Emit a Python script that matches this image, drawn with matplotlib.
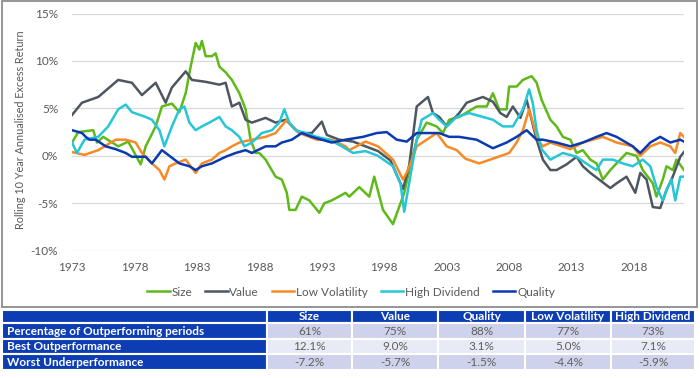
import numpy as np
import matplotlib.pyplot as plt
from matplotlib.patches import Rectangle

plt.rcParams['font.family'] = ['Lato', 'DejaVu Sans']

# ---- chart data (rolling 10y annualised excess return, %) ----
size_years = [1973.0, 1973.5, 1974.7, 1975.0, 1975.5, 1976.7, 1977.5, 1978.0, 1978.5, 1978.9,
              1979.7, 1980.2, 1981.0, 1981.6, 1982.1, 1982.5, 1982.9, 1983.2, 1983.4, 1983.7,
              1984.2, 1984.5, 1984.8, 1985.3, 1985.8, 1986.4, 1986.9, 1987.3, 1987.7, 1988.0,
              1988.5, 1989.3, 1989.8, 1990.2, 1990.4, 1990.9, 1991.4, 1992.0, 1992.8, 1993.2,
              1993.8, 1994.9, 1995.2, 1996.0, 1996.8, 1997.2, 1997.9, 1998.7, 1999.3, 1999.6,
              2000.1, 2000.6, 2001.4, 2002.2, 2002.7, 2003.2, 2004.0, 2005.4, 2006.2, 2006.7,
              2007.2, 2007.8, 2008.0, 2008.6, 2009.1, 2009.8, 2010.2, 2010.6, 2011.3, 2011.8,
              2012.3, 2012.9, 2013.4, 2013.9, 2014.5, 2015.0, 2015.5, 2016.1, 2016.6, 2017.4,
              2018.2, 2018.7, 2019.5, 2019.8, 2020.3, 2020.6, 2021.1, 2021.4, 2022.0]
size_vals = [1.4, 2.5, 2.7, 1.4, 2.0, 1.0, 1.5, 0.3, -0.9, 1.0,
             3.1, 5.2, 5.5, 4.6, 6.6, 9.4, 11.9, 11.2, 12.1, 10.5,
             10.5, 10.8, 9.4, 8.8, 8.0, 6.6, 4.9, 1.7, 0.3, 0.3,
             -0.4, -2.2, -2.5, -3.9, -5.7, -5.7, -4.3, -4.7, -6.0, -5.0,
             -4.7, -3.9, -4.3, -3.3, -4.3, -2.2, -5.7, -7.2, -5.0, -3.9,
             -1.0, 1.7, 3.5, 3.1, 2.4, 3.8, 4.1, 5.2, 5.2, 6.6,
             4.9, 4.9, 7.3, 7.3, 8.0, 8.4, 7.7, 5.9, 3.8, 3.1,
             2.0, 1.7, 0.3, 0.6, -0.4, -0.8, -2.5, -1.5, -0.8, 0.3,
             0.0, -1.5, -2.9, -4.3, -2.5, -1.1, -1.5, -0.4, -1.5]

value_years = [1973.0, 1973.8, 1975.1, 1976.7, 1977.8, 1978.6, 1979.7, 1980.5, 1981.0, 1982.1,
               1982.6, 1983.7, 1984.8, 1985.3, 1985.8, 1986.4, 1986.9, 1987.4, 1988.5, 1989.3,
               1990.1, 1991.2, 1992.2, 1993.0, 1993.4, 1994.4, 1995.5, 1996.5, 1997.5, 1998.5,
               1999.0, 1999.5, 2000.0, 2000.6, 2001.5, 2001.9, 2002.4, 2003.0, 2004.0, 2004.6,
               2005.9, 2006.7, 2007.3, 2007.8, 2008.3, 2008.9, 2009.4, 2010.2, 2010.7, 2011.3,
               2011.8, 2012.6, 2013.4, 2013.9, 2014.5, 2015.2, 2016.1, 2016.6, 2017.4, 2018.1,
               2018.5, 2019.0, 2019.5, 2020.1, 2020.6, 2021.1, 2021.7, 2022.0]
value_vals = [4.3, 5.6, 6.2, 8.0, 7.7, 6.4, 7.7, 5.6, 7.2, 8.9,
              8.0, 7.8, 7.5, 7.7, 5.2, 5.6, 3.8, 3.5, 4.0, 3.5,
              3.8, 2.4, 2.4, 3.6, 2.2, 1.7, 1.5, 1.0, 0.5, -0.5,
              -2.0, -3.5, -1.0, 5.2, 6.2, 4.5, 4.1, 3.1, 4.5, 5.6,
              6.2, 5.7, 4.5, 4.1, 5.2, 4.0, 5.9, 1.7, -0.4, -1.5,
              -1.5, -0.9, -0.1, -1.1, -1.8, -2.5, -3.4, -2.9, -2.2, -3.9,
              -1.8, -2.5, -5.4, -5.5, -3.6, -2.2, -0.1, 0.4]

lowvol_years = [1973.0, 1974.0, 1975.1, 1976.5, 1977.3, 1978.1, 1978.6, 1979.4, 1980.0, 1980.4,
                1980.8, 1981.3, 1982.1, 1982.9, 1983.4, 1984.2, 1984.8, 1985.3, 1985.8, 1986.4,
                1987.4, 1988.5, 1989.3, 1990.2, 1990.6, 1991.2, 1992.6, 1993.8, 1994.9, 1995.2,
                1996.5, 1997.5, 1998.7, 1999.5, 1999.9, 2000.6, 2001.4, 2002.2, 2003.0, 2003.8,
                2004.5, 2005.6, 2006.7, 2008.0, 2008.6, 2009.1, 2009.6, 2009.9, 2010.3, 2010.7,
                2011.3, 2012.9, 2013.9, 2015.5, 2016.6, 2017.9, 2018.5, 2019.3, 2020.1, 2020.9,
                2021.3, 2021.7, 2022.0]
lowvol_vals = [0.4, 0.1, 0.6, 1.7, 1.7, 1.4, 0.3, -0.8, -1.5, -2.5,
               -1.1, -0.8, -0.4, -1.8, -0.8, -0.4, 0.3, 0.6, 1.0, 1.4,
               1.7, 2.0, 2.4, 3.8, 3.1, 2.4, 1.7, 1.7, 1.0, 0.6,
               1.5, 1.0, -0.4, -2.5, -1.5, 1.0, 1.7, 2.4, 1.0, 0.6,
               -0.3, -0.8, -0.3, 0.3, 1.4, 2.7, 4.9, 3.5, 1.7, 1.0,
               1.4, 0.7, 1.4, 2.0, 1.4, 1.0, 0.0, 1.0, 1.4, 1.0,
               0.3, 2.4, 2.0]

highdiv_years = [1973.0, 1973.4, 1974.0, 1975.1, 1975.9, 1976.7, 1977.3, 1977.8, 1978.9, 1979.4,
                 1980.0, 1980.4, 1981.0, 1981.6, 1982.0, 1982.4, 1982.9, 1983.4, 1984.0, 1984.8,
                 1985.3, 1985.8, 1986.4, 1986.8, 1987.4, 1988.2, 1989.0, 1989.6, 1990.0, 1990.4,
                 1990.9, 1991.7, 1992.6, 1993.6, 1994.6, 1995.5, 1996.5, 1997.5, 1998.7, 1999.3,
                 1999.6, 1999.9, 2000.6, 2001.0, 2001.9, 2002.4, 2003.0, 2003.8, 2004.8, 2005.9,
                 2006.7, 2007.5, 2008.3, 2009.1, 2009.6, 2009.9, 2010.2, 2010.6, 2011.3, 2012.3,
                 2013.4, 2014.5, 2015.0, 2015.5, 2016.3, 2017.1, 2017.9, 2018.7, 2019.3, 2019.8,
                 2020.3, 2020.6, 2021.0, 2021.3, 2021.7, 2022.0]
highdiv_vals = [1.4, 0.3, 1.7, 2.0, 3.1, 4.9, 5.4, 4.6, 4.1, 3.8,
                2.7, 1.0, 3.1, 4.9, 5.2, 3.5, 2.7, 3.1, 3.5, 4.1,
                3.1, 2.7, 2.0, 1.0, 1.4, 2.4, 2.7, 3.5, 4.9, 3.5,
                2.7, 2.4, 2.0, 1.7, 1.0, 0.3, 0.5, 0.0, -1.1, -2.9,
                -5.9, -3.6, 1.7, 3.8, 4.5, 3.8, 3.1, 4.1, 4.5, 4.1,
                3.8, 3.1, 3.1, 4.9, 7.0, 5.5, 2.7, 0.7, -0.4, 0.3,
                -0.1, -1.1, -1.5, -0.4, -0.4, -0.8, -1.1, -0.4, -1.1, -3.3,
                -4.7, -3.6, -2.5, -4.7, -2.2, -2.2]

quality_years = [1973.0, 1973.8, 1974.1, 1974.4, 1974.9, 1975.7, 1976.5, 1977.3, 1977.8, 1978.9,
                 1979.4, 1980.2, 1980.8, 1981.6, 1982.4, 1982.9, 1983.4, 1984.2, 1985.3, 1986.1,
                 1986.9, 1987.4, 1988.5, 1989.3, 1989.8, 1990.6, 1991.4, 1992.2, 1993.0, 1993.8,
                 1994.9, 1996.3, 1997.4, 1998.2, 1999.0, 1999.8, 2000.6, 2001.6, 2002.4, 2003.2,
                 2004.0, 2005.4, 2006.7, 2007.8, 2008.6, 2009.4, 2010.2, 2010.7, 2011.8, 2012.9,
                 2013.9, 2015.0, 2015.8, 2016.6, 2017.9, 2018.5, 2019.3, 2020.1, 2020.9, 2021.7,
                 2022.0]
quality_vals = [2.7, 2.4, 2.0, 1.7, 1.7, 1.0, 0.7, 0.3, -0.1, -0.1,
                -0.8, 0.6, 0.0, -0.8, -1.1, -1.5, -1.1, -0.8, -0.1, 0.3,
                0.6, 0.3, 1.0, 1.0, 1.4, 1.7, 2.4, 2.0, 1.7, 1.4,
                1.7, 2.0, 2.4, 2.5, 1.7, 1.5, 2.4, 2.4, 2.4, 2.0,
                2.0, 1.7, 0.8, 1.4, 2.0, 2.7, 1.7, 1.7, 1.4, 1.0,
                1.4, 2.0, 2.4, 2.0, 1.0, 0.3, 1.4, 2.0, 1.4, 1.7,
                1.5]

year_ticks = [1973, 1978, 1983, 1988, 1993, 1998, 2003, 2008, 2013, 2018]
pct_ticks = [-10, -5, 0, 5, 10, 15]

# ---- table data ----
table_cols = ['Size', 'Value', 'Quality', 'Low Volatility', 'High Dividend']
table_rows = ['Percentage of Outperforming periods', 'Best Outperformance', 'Worst Underperformance']
pct_outperf = ['61%', '75%', '88%', '77%', '73%']
best_outperf = ['12.1%', '9.0%', '3.1%', '5.0%', '7.1%']
worst_underperf = ['-7.2%', '-5.7%', '-1.5%', '-4.4%', '-5.9%']

series = [
    ('Size', size_years, size_vals, '#5FB91A'),
    ('Value', value_years, value_vals, '#4E5660'),
    ('Low Volatility', lowvol_years, lowvol_vals, '#F68A26'),
    ('High Dividend', highdiv_years, highdiv_vals, '#26C6D6'),
    ('Quality', quality_years, quality_vals, '#0A3AB0'),
]

W, H = 700, 378
fig = plt.figure(figsize=(W / 100, H / 100), dpi=100)

# outer frame round the chart
fig.patches.append(Rectangle((2 / W, 1 - 307 / H), 695 / W, 306 / H, transform=fig.transFigure,
                             fill=False, edgecolor='#8C8C8C', linewidth=1.3))

ax = fig.add_axes([72 / W, 1 - 250.7 / H, 612 / W, 237.2 / H])
for name, xs, ys, c in series:
    ax.plot(xs, ys, color=c, lw=1.8, label=name)

ax.set_xlim(1973, 2022)
ax.set_ylim(-10, 15)
ax.set_yticks(pct_ticks)
ax.set_yticklabels([f'{t}%' for t in pct_ticks])
ax.set_xticks(year_ticks)
ax.set_xticklabels([str(t) for t in year_ticks])
ax.grid(axis='y', color='#D9D9D9', lw=0.9)
ax.set_axisbelow(True)
for s in ax.spines.values():
    s.set_visible(False)
ax.tick_params(axis='both', length=0, labelsize=8.5, colors='#595959')
ax.tick_params(axis='y', pad=10)
ax.tick_params(axis='x', pad=8)

fig.text(20.5 / W, 1 - 130 / H, 'Rolling 10 Year Annualised Excess Return', rotation=90,
         ha='center', va='center', fontsize=7.8, color='#595959')

fig.legend(loc='center', bbox_to_anchor=(351 / W, 1 - 292 / H), ncol=5, frameon=False,
           fontsize=8.5, handlelength=1.9, handletextpad=0.15, columnspacing=1.1,
           labelcolor='#595959')

# ---- summary table ----
tax = fig.add_axes([2 / W, 1 - 370 / H, 693 / W, 60 / H])
tax.axis('off')
cell_text = [[''] + table_cols]
for lab, vals in zip(table_rows, [pct_outperf, best_outperf, worst_underperf]):
    cell_text.append([lab] + vals)
col_w = [265, 85, 86, 87, 86, 84]
tbl = tax.table(cellText=cell_text, colWidths=[w / sum(col_w) for w in col_w],
                bbox=[0, 0, 1, 1], cellLoc='center')
tbl.auto_set_font_size(False)
blue = '#0C3DB3'
row_bg = ['#CED2EA', '#E8EAF5', '#CED2EA']
row_h = [13, 15, 15, 15]
for (r, c), cell in tbl.get_celld().items():
    cell.set_edgecolor('white')
    cell.set_linewidth(1.5)
    cell.set_height(row_h[r] / 60)
    txt = cell.get_text()
    txt.set_fontsize(8.5)
    txt.set_fontfamily(['Liberation Sans Narrow', 'Lato', 'DejaVu Sans'])
    if r == 0 or c == 0:
        cell.set_facecolor(blue)
        txt.set_color('white')
        txt.set_fontweight('bold')
        if c == 0:
            txt.set_ha('left')
            cell.PAD = 0.02
    else:
        cell.set_facecolor(row_bg[r - 1])
        txt.set_color('#606060')

fig.savefig('out.png', dpi=100)
